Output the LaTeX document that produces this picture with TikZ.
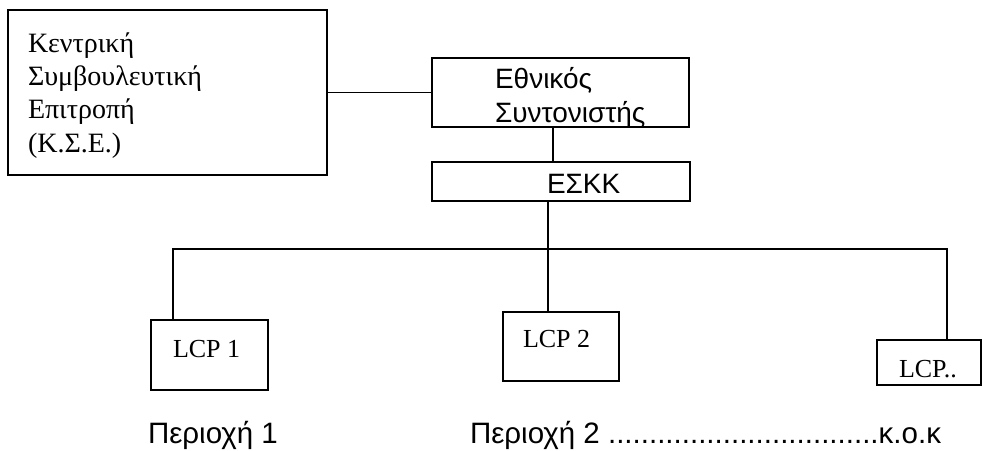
\documentclass[tikz,border=0pt]{standalone}
\usepackage{fontspec}
\setmainfont{Liberation Serif}
\newfontfamily\arialf{Liberation Sans}
\begin{document}
\begin{tikzpicture}[x=1pt,y=-1pt,
  box/.style={draw, line width=1.8pt, inner sep=0pt, outer sep=0pt},
  conn/.style={line width=1.8pt},
  serif/.style={font=\fontsize{28}{33.3}\selectfont, inner sep=0pt, outer sep=0pt},
  serifb/.style={font=\fontsize{26}{30}\selectfont, inner sep=0pt, outer sep=0pt},
  sans/.style={font=\arialf\fontsize{28}{34}\selectfont, inner sep=0pt, outer sep=0pt},
  sansb/.style={font=\arialf\fontsize{29.5}{34}\selectfont, inner sep=0pt, outer sep=0pt}]
\useasboundingbox (0,0) rectangle (982,450);
% boxes
\node[box, minimum width=319pt, minimum height=165pt] (kse) at (167.5,92.5) {};
\node[box, minimum width=257pt, minimum height=69pt] (en) at (560.5,92.5) {};
\node[box, minimum width=258pt, minimum height=39pt] (eskk) at (561,181.5) {};
\node[box, minimum width=117pt, minimum height=70pt] (lcp1) at (209.5,355) {};
\node[box, minimum width=116pt, minimum height=69pt] (lcp2) at (561,346.5) {};
\node[box, minimum width=104pt, minimum height=45pt] (lcpn) at (929,362.5) {};
% helper coordinates
\coordinate (c1) at (553,0);
\coordinate (busL) at (173,249);
\coordinate (busM) at (548,249);
\coordinate (busR) at (947,249);
% connectors
\draw[conn] (kse.east) -- (en.west);
\draw[conn] (en.south -| c1) -- (eskk.north -| c1);
\draw[conn] (eskk.south -| busM) -- (busM);
\draw[conn] (lcp1.north -| busL) -- (busL) -- (busR) -- (lcpn.north -| busR);
\draw[conn] (busM) -- (lcp2.north -| busM);
% texts (base = baseline of the last line)
\node[serif, anchor=base west, align=left] (ksetext) at (28,152)
  {Κεντρική\\Συμβουλευτική\\Επιτροπή\\(Κ.Σ.Ε.)};
\node[sans, anchor=base west, align=left] (entext) at (495,122)
  {Εθνικός\\Συντονιστής};
\node[sans, anchor=base west] (eskktext) at (547,193) {ΕΣΚΚ};
\node[serifb, anchor=base west] (lcp1text) at (173,357) {LCP 1};
\node[serifb, anchor=base west] (lcp2text) at (523,347) {LCP 2};
\node[serifb, anchor=base west] (lcpntext) at (899,377) {LCP..};
\node[sansb, anchor=base west] (per1) at (148,443) {Περιοχή 1};
\node[sansb, anchor=base west] (per2) at (470,443)
  {Περιοχή 2 .................................κ.ο.κ};
\end{tikzpicture}
\end{document}
